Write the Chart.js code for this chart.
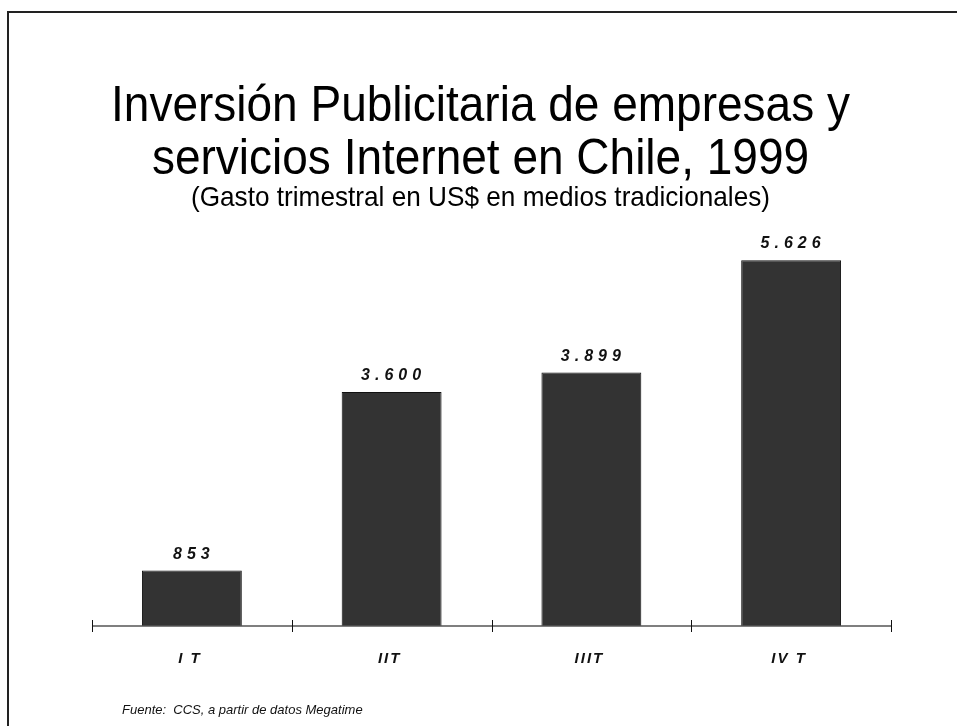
<!DOCTYPE html>
<html lang="es">
<head>
  <meta charset="UTF-8">
  <title>Inversión Publicitaria Internet Chile 1999</title>
  <script src="https://cdn.jsdelivr.net/npm/chart.js"></script>
  <style>
    html,body{margin:0;padding:0;background:#fff}
    #wrap{width:957px;height:726px;position:relative}
  </style>
</head>
<body>
<div id="wrap"><canvas id="grafico" width="957" height="726"></canvas></div>
<script>
// Datos: gasto trimestral (US$)
const trimestres = ['I T', 'IIT', 'IIIT', 'IV T'];
const gasto = [853, 3600, 3899, 5626];
const etiquetas = ['853', '3.600', '3.899', '5.626'];

const titulo = ['Inversión Publicitaria de empresas y', 'servicios Internet en Chile, 1999'];
const subtitulo = '(Gasto trimestral en US$ en medios tradicionales)';
const nota = 'Fuente:  CCS, a partir de datos Megatime';

const FUENTE = '"Liberation Sans", Arial, sans-serif';

// texto centrado y algo estrechado en horizontal
function textoEstrecho(ctx, texto, cx, y, escala){
  ctx.save();
  ctx.translate(cx, y);
  ctx.scale(escala, 1);
  ctx.fillText(texto, 0, 0);
  ctx.restore();
}

// Títulos centrados en la lámina, marco, eje, marcas, etiquetas y nota
const decoracion = {
  id: 'decoracion',
  afterDatasetsDraw(chart){
    const ctx = chart.ctx;
    const x = chart.scales.x, y = chart.scales.y;
    const base = y.getPixelForValue(0);
    const cx = chart.width / 2 + 2;
    ctx.save();

    // marco exterior
    ctx.strokeStyle = '#222';
    ctx.lineWidth = 2;
    ctx.strokeRect(8, 12, 1000, 1000);

    // título y subtítulo
    ctx.fillStyle = '#000';
    ctx.textAlign = 'center';
    ctx.textBaseline = 'alphabetic';
    ctx.font = '50px ' + FUENTE;
    titulo.forEach((t, i) => textoEstrecho(ctx, t, cx, 121 + i * 53, 0.92));
    ctx.font = '28px ' + FUENTE;
    textoEstrecho(ctx, subtitulo, cx, 206, 0.935);

    // eje horizontal con marcas
    ctx.strokeStyle = '#555';
    ctx.lineWidth = 1.5;
    ctx.beginPath();
    ctx.moveTo(x.left, base); ctx.lineTo(x.right, base);
    ctx.stroke();
    ctx.strokeStyle = '#111';
    ctx.lineWidth = 1;
    for(let i = 0; i <= trimestres.length; i++){
      const px = Math.round(x.getPixelForValue(i - 0.5)) + 0.5;
      ctx.beginPath();
      ctx.moveTo(px, base - 6); ctx.lineTo(px, base + 6);
      ctx.stroke();
    }

    // valores sobre las barras
    ctx.fillStyle = '#111';
    ctx.font = 'italic bold 16px ' + FUENTE;
    ctx.letterSpacing = '5px';
    chart.getDatasetMeta(0).data.forEach((bar, i) => {
      ctx.fillText(etiquetas[i], bar.x + 2, bar.y - 12);
    });

    // trimestres bajo el eje
    ctx.font = 'italic bold 15px ' + FUENTE;
    ctx.letterSpacing = '2px';
    trimestres.forEach((t, i) => {
      ctx.fillText(t, x.getPixelForValue(i) - 2, base + 37);
    });

    // fuente
    ctx.letterSpacing = '0px';
    ctx.textAlign = 'left';
    ctx.font = 'italic 13px ' + FUENTE;
    ctx.fillText(nota, 122, 714);
    ctx.restore();
  }
};

new Chart(document.getElementById('grafico'), {
  type: 'bar',
  data: {
    labels: trimestres,
    datasets: [{
      data: gasto,
      backgroundColor: '#333333',
      borderColor: '#111',
      borderWidth: 1,
      barPercentage: 0.5,
      categoryPercentage: 1
    }]
  },
  options: {
    responsive: false,
    animation: false,
    layout: { padding: { left: 92, right: 66, top: 236, bottom: 100 } },
    plugins: {
      legend: { display: false },
      tooltip: { enabled: false }
    },
    scales: {
      x: { display: false, offset: true, grid: { display: false } },
      y: { display: false, min: 0, max: 6000 }
    }
  },
  plugins: [decoracion]
});
</script>
</body>
</html>
